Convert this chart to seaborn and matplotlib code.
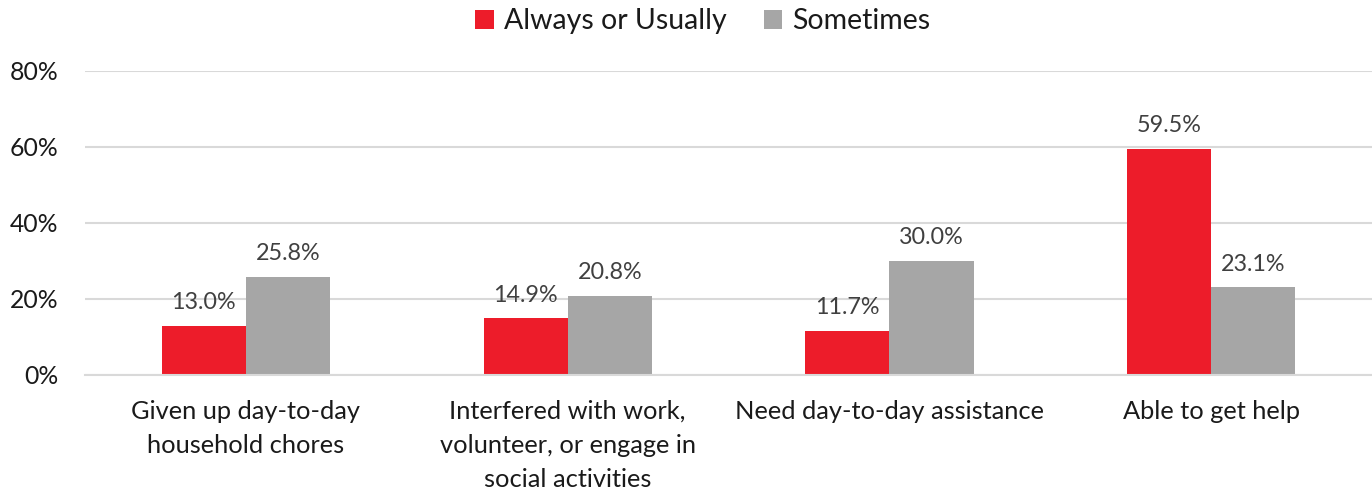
import matplotlib
matplotlib.use("Agg")
import matplotlib.pyplot as plt
import seaborn as sns
import pandas as pd

categories = [
    "Given up day-to-day\nhousehold chores",
    "Interfered with work,\nvolunteer, or engage in\nsocial activities",
    "Need day-to-day assistance",
    "Able to get help",
]
series_names = ["Always or Usually", "Sometimes"]
always_usually = [13.0, 14.9, 11.7, 59.5]
sometimes = [25.8, 20.8, 30.0, 23.1]
y_ticks = [0, 20, 40, 60, 80]
colors = ["#ED1C2A", "#A6A6A6"]

rows = []
for cat, a, s in zip(categories, always_usually, sometimes):
    rows.append({"category": cat, "series": series_names[0], "value": a})
    rows.append({"category": cat, "series": series_names[1], "value": s})
df = pd.DataFrame(rows)

sns.set_theme(style="white")
plt.rcParams["font.family"] = ["Lato", "DejaVu Sans"]

fig = plt.figure(figsize=(13.72, 4.93), dpi=100)
ax = fig.add_axes([0.062, 0.2394, 0.938, 0.6166])

sns.barplot(data=df, x="category", y="value", hue="series", order=categories,
            hue_order=series_names, palette=colors, width=0.523, gap=0,
            saturation=1, ax=ax, legend=True, linewidth=0, errorbar=None)

for container in ax.containers:
    ax.bar_label(container, labels=[f"{b.get_height():.1f}%" for b in container],
                 padding=9, fontsize=16.8, color="#404040")

ax.set_ylim(0, 80)
ax.set_yticks(y_ticks)
ax.set_yticklabels([f"{t}%" for t in y_ticks])
ax.set_xlim(-0.5, len(categories) - 0.5)
ax.yaxis.grid(True, color="#D9D9D9", linewidth=1.5)
ax.set_axisbelow(True)
for side in ["top", "right", "left"]:
    ax.spines[side].set_visible(False)
ax.spines["bottom"].set_color("#D9D9D9")
ax.spines["bottom"].set_linewidth(1.5)
ax.tick_params(axis="y", length=0, pad=19, labelsize=17.8, labelcolor="#1A1A1A")
ax.tick_params(axis="x", length=0, pad=18, labelsize=18.3, labelcolor="#1A1A1A")
for lbl in ax.get_xticklabels():
    lbl.set_linespacing(1.58)
ax.set_xlabel("")
ax.set_ylabel("")

handles, labels = ax.get_legend_handles_labels()
ax.legend(handles, labels, loc="center", bbox_to_anchor=(0.48, 1.164),
          ncol=2, frameon=False, fontsize=20.5, handlelength=0.65,
          handleheight=0.65, handletextpad=0.35, columnspacing=1.3,
          labelcolor="#1A1A1A")

fig.savefig("out.png", dpi=100)
